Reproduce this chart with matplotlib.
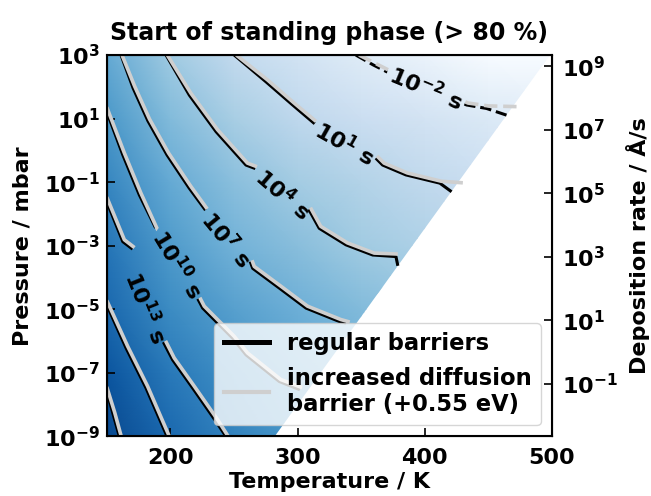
import numpy as np
import matplotlib
matplotlib.use("Agg")
import matplotlib.pyplot as plt
from matplotlib.contour import ContourSet
from matplotlib.colors import PowerNorm
from matplotlib.lines import Line2D
from matplotlib.patches import Polygon
from matplotlib.ticker import NullLocator

plt.rcParams["font.family"] = ["DejaVu Sans"]
plt.rcParams["font.weight"] = "bold"
plt.rcParams["axes.labelweight"] = "bold"
plt.rcParams["axes.titleweight"] = "bold"
plt.rcParams["mathtext.default"] = "regular"

# ---- coarse map of log10(time / s) for the colour background ----
grid_T = [150, 200, 250, 300, 350, 400, 450, 500]
grid_logp = [-9, -7, -5, -3, -1, 1, 3]
logt_pm9 = [19.8, 15.8, 12.7, 10.3, 8.5, 7.0, 5.6, 4.2]
logt_pm7 = [18.3, 13.9, 11.2, 9.0, 7.2, 5.8, 4.4, 3.0]
logt_pm5 = [15.9, 11.7, 9.1, 7.2, 5.8, 4.6, 3.5, 2.4]
logt_pm3 = [14.3, 9.8, 6.9, 5.3, 3.7, 2.7, 1.8, 0.9]
logt_pm1 = [12.4, 7.9, 5.2, 3.5, 2.3, 1.2, 0.2, -0.8]
logt_pp1 = [10.2, 5.8, 3.2, 1.3, 0.2, -0.7, -1.6, -2.5]
logt_pp3 = [8.0, 3.8, 1.0, -0.6, -2.1, -3.2, -4.0, -4.7]

# edge of the region where the standing phase is reached
edge_T = [282, 498]
edge_logp = [-9, 3]

# ---- contour lines (T in K, log10 p in mbar) ----
levels = [-2, 1, 4, 7, 10, 13, 16, 19]

# regular barriers
reg_m2 = ([345.8, 359.4, 370, 400.8, 422.3, 432.8, 448.5, 464.2],
          [3.0, 2.69, 2.475, 1.96, 1.585, 1.43, 1.32, 1.11])
reg_1 = ([250.2, 275.1, 296.1, 315, 337.2, 366.8, 385.1, 411.8, 421],
         [3.0, 2.16, 1.43, 0.705, 0.20, -0.46, -0.77, -1.03, -1.30])
reg_4 = ([196.6, 214.9, 235.9, 259.4, 288.3, 317, 338, 359, 377.3, 378.8],
         [3.0, 1.74, 0.59, -0.46, -1.40, -2.45, -2.97, -3.29, -3.34, -3.63])
reg_7 = ([161.2, 170.7, 182.4, 197.4, 214.7, 228, 243.7, 264.7, 285.6, 306.6, 332.7, 338],
         [3.0, 1.96, 0.925, -0.145, -1.18, -1.94, -2.82, -3.71, -4.33, -4.96, -5.38, -5.43])
reg_10 = ([150, 162.6, 175.6, 188.7, 205.8, 218.8, 225.4, 249, 259.4, 285.6, 301.8],
          [1.22, -0.14, -1.40, -2.55, -3.60, -4.54, -4.96, -5.91, -6.43, -7.27, -7.53])
reg_13 = ([150, 162.6, 180.9, 191.3, 201.8, 217.6, 235.9, 243.7],
          [-1.61, -2.87, -4.96, -5.91, -6.59, -7.48, -8.53, -9.0])
reg_16 = ([150, 165.2, 180.9, 197.4],
          [-4.86, -6.22, -7.48, -9.0])
reg_19 = ([150, 155, 159.9],
          [-7.58, -8.3, -9.0])

# increased diffusion barrier (+0.55 eV)
inc_m2 = ([348.3, 360.6, 371.2, 402.0, 423.5, 434.0, 449.7, 474.7],
          [3.0, 2.75, 2.535, 2.02, 1.645, 1.49, 1.40, 1.375])
inc_1 = ([251.8, 276.3, 297.3, 316.2, 338.4, 368.0, 386.3, 413.0, 429.9],
         [3.0, 2.22, 1.49, 0.765, 0.26, -0.40, -0.71, -0.97, -1.02])
inc_4 = ([197.6, 216.1, 237.1, 260.6, 289.5, 318.2, 339.2, 360.2, 378.8],
         [3.0, 1.80, 0.65, -0.40, -1.34, -2.39, -2.91, -3.23, -3.26])
inc_7 = ([162.0, 171.9, 183.6, 198.6, 215.9, 229.2, 244.9, 265.9, 286.8, 307.8, 333.9, 341],
         [3.0, 2.02, 0.985, -0.085, -1.12, -1.88, -2.76, -3.65, -4.27, -4.90, -5.32, -5.40])
inc_10 = ([150, 163.8, 176.8, 189.9, 207.0, 220.0, 226.6, 250.2, 260.6, 286.8, 303.5],
          [1.36, -0.08, -1.34, -2.49, -3.54, -4.48, -4.90, -5.85, -6.37, -7.21, -7.46])
inc_13 = ([150, 163.8, 182.1, 192.5, 203.0, 218.8, 237.1, 245.5],
          [-1.47, -2.81, -4.90, -5.85, -6.53, -7.42, -8.47, -9.0])
inc_16 = ([150, 166.4, 182.1, 199.2],
          [-4.72, -6.16, -7.42, -9.0])
inc_19 = ([150, 156.2, 161.4],
          [-7.44, -8.24, -9.0])

label_T = [400.8, 337.2, 288.3, 243.7, 205.8, 180.9]
label_logp = [1.96, 0.20, -1.40, -2.82, -3.60, -4.96]

# right axis: deposition rate corresponding to the pressure range
rate_lim = (10 ** -2.65, 10 ** 9.35)


def to_segs(lines):
    return [[np.column_stack([np.asarray(T, float), 10.0 ** np.asarray(lp, float)])]
            for T, lp in lines]


fig = plt.figure(figsize=(6.51, 4.96), dpi=100)
ax = fig.add_axes([0.164, 0.12, 0.684, 0.769])

# background
TT, PP = np.meshgrid(grid_T, 10.0 ** np.asarray(grid_logp, float))
ZZ = np.array([logt_pm9, logt_pm7, logt_pm5, logt_pm3, logt_pm1, logt_pp1, logt_pp3])
mesh = ax.pcolormesh(TT, PP, ZZ, shading="gouraud", cmap="Blues",
                     norm=PowerNorm(gamma=0.8, vmin=-4, vmax=23), zorder=0.5)
clip = Polygon([(grid_T[0], 10.0 ** edge_logp[0]), (edge_T[0], 10.0 ** edge_logp[0]),
                (edge_T[1], 10.0 ** edge_logp[1]), (grid_T[0], 10.0 ** edge_logp[1])],
               closed=True, transform=ax.transData, facecolor="none", edgecolor="none")
mesh.set_clip_path(clip)

cs_reg = ContourSet(ax, levels,
                    to_segs([reg_m2, reg_1, reg_4, reg_7, reg_10, reg_13, reg_16, reg_19]),
                    colors="black", linewidths=2.2, zorder=2)
cs_inc = ContourSet(ax, levels,
                    to_segs([inc_m2, inc_1, inc_4, inc_7, inc_10, inc_13, inc_16, inc_19]),
                    colors="#cfcfcf", linewidths=2.6, zorder=2.2)

ax.set_yscale("log")
ax.set_xlim(150, 500)
ax.set_ylim(1e-9, 1e3)

spots = list(zip(label_T, 10.0 ** np.asarray(label_logp)))
fmt = lambda lev: rf"$10^{{{lev:.0f}}}$ s"
ax.clabel(cs_reg, manual=spots, inline=True, fmt=fmt, fontsize=16,
          colors="black", inline_spacing=3)
# same gaps in the grey lines, text drawn only once
hidden = ax.clabel(cs_inc, manual=spots, inline=True, fmt=fmt, fontsize=16,
                   colors="black", inline_spacing=3)
for t in hidden:
    t.set_visible(False)

ax.set_xticks([200, 300, 400, 500])
ax.set_yticks(10.0 ** np.arange(-9, 4, 2))
ax.yaxis.set_minor_locator(NullLocator())
ax.tick_params(direction="in", length=6, width=1.2, labelsize=16,
               top=False, right=False)
ax.tick_params(axis="x", pad=8)
ax.tick_params(axis="y", pad=5)
ax.set_xlabel("Temperature / K", fontsize=16, labelpad=3)
ax.set_ylabel("Pressure / mbar", fontsize=16, labelpad=8)
ax.set_title("Start of standing phase (> 80 %)", fontsize=17, pad=11)
for s in ax.spines.values():
    s.set_linewidth(1.5)

ax2 = ax.twinx()
ax2.set_yscale("log")
ax2.set_ylim(*rate_lim)
ax2.set_yticks(10.0 ** np.arange(-1, 10, 2))
ax2.yaxis.set_minor_locator(NullLocator())
ax2.tick_params(direction="in", length=6, width=1.2, labelsize=16, pad=7)
ax2.set_ylabel("Deposition rate / Å/s", fontsize=16, labelpad=6)

handles = [Line2D([], [], color="black", lw=3.6),
           Line2D([], [], color="#cfcfcf", lw=3.0)]
ax.legend(handles, ["regular barriers", "increased diffusion\nbarrier (+0.55 eV)"],
          loc="lower right", fontsize=16.3, framealpha=0.8)

fig.savefig("out.png", dpi=100)
